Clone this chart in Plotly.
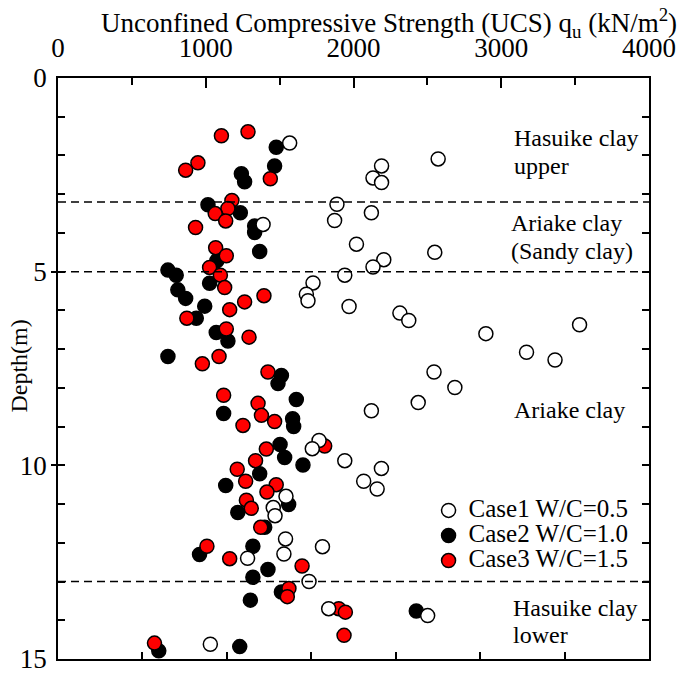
import plotly.graph_objects as go

# ---- data ----
case1_qu = [1568, 2573, 2190, 2132, 2190, 1888, 1872, 2121, 1388, 2020, 2550, 2205, 2132, 1941,
            1726, 1681, 1692, 1970, 2314, 2374, 3530, 2896, 3171, 3364, 2545, 2686, 2438, 2121,
            1767, 1721, 1941, 2189, 2069, 2160, 1543, 1457, 1469, 1540, 1529, 1283, 1790, 1699,
            1832, 2502, 1031]
case1_depth = [1.68, 2.09, 2.27, 2.58, 2.70, 3.26, 3.68, 3.48, 3.78, 4.29, 4.50, 4.69, 4.88, 5.09,
               5.29, 5.58, 5.75, 5.90, 6.07, 6.26, 6.37, 6.60, 7.08, 7.28, 7.59, 7.99, 8.38, 8.59,
               9.36, 9.57, 9.88, 10.08, 10.41, 10.61, 10.80, 11.09, 11.30, 11.90, 12.29, 12.40, 12.10, 13.00,
               13.70, 13.88, 14.62]

case2_qu = [1477, 1466, 1241, 1263, 1015, 1234, 1331, 1331, 1365, 1075, 744, 800, 1026, 811,
            864, 993, 936, 1071, 1150, 744, 1512, 1489, 1613, 1121, 1588, 1595, 1503, 1534,
            1658, 1365, 1135, 1561, 1217, 1399, 958, 1319, 1421, 1319, 1512, 1302, 2425, 682, 1230]
case2_depth = [1.79, 2.27, 2.47, 2.68, 3.27, 3.48, 3.82, 3.99, 4.48, 4.72, 4.96, 5.09, 5.30, 5.47,
               5.69, 5.89, 6.20, 6.57, 6.79, 7.19, 7.68, 7.89, 8.30, 8.66, 8.80, 9.00, 9.46, 9.80,
               9.99, 10.22, 10.52, 11.01, 11.22, 11.60, 12.30, 12.09, 12.69, 12.89, 13.27, 13.48, 13.76, 14.79, 14.68]

case3_qu = [1106, 1286, 947, 864, 1437, 1177, 1150, 1064, 1135, 931, 1067, 1139, 1026, 1099,
            1128, 1394, 1263, 1162, 872, 1139, 1293, 1090, 977, 1421, 1121, 1354, 1377, 1466,
            1252, 1805, 1410, 1337, 1213, 1270, 1477, 1414, 1275, 1308, 1372, 1008, 1162, 1652,
            1563, 1552, 1900, 1945, 1936, 653]
case3_depth = [1.49, 1.39, 2.19, 2.38, 2.60, 3.16, 3.37, 3.50, 3.69, 3.86, 4.38, 4.59, 4.89, 5.09,
               5.41, 5.62, 5.78, 5.98, 6.20, 6.48, 6.69, 7.19, 7.38, 7.59, 8.19, 8.40, 8.71, 8.87,
               8.97, 9.50, 9.58, 9.88, 10.10, 10.41, 10.50, 10.69, 10.90, 11.11, 11.60, 12.09, 12.41, 12.60,
               13.18, 13.39, 13.70, 13.79, 14.39, 14.59]

series_names = ["Case1 W/C=0.5", "Case2 W/C=1.0", "Case3 W/C=1.5"]

x_tick_vals = [0, 1000, 2000, 3000, 4000]
x_minor_vals = [500, 1500, 2500, 3500]
x_bottom_ticks = [571.4, 1142.9, 1714.3, 2285.7, 2857.1, 3428.6]
y_tick_vals = [0, 5, 10, 15]
y_minor_vals = [1, 2, 3, 4, 6, 7, 8, 9, 11, 12, 13, 14]
y_right_ticks = [1, 2, 3, 4, 5, 6, 7, 8, 9, 10, 11, 12, 13, 14]
boundary_depths = [3.2, 5.0, 13.0]

layer_labels = [
    ("Hasuike clay", 3070, 1.56), ("upper", 3070, 2.26),
    ("Ariake clay", 3050, 3.74), ("(Sandy clay)", 3050, 4.47),
    ("Ariake clay", 3070, 8.57),
    ("Hasuike clay", 3065, 13.68), ("lower", 3065, 14.39),
]

FONT = "Liberation Serif"

def legend_label(s):
    return '<span style="font-size:25px">' + s + '</span>'

fig = go.Figure()
MS = 14
fig.add_trace(go.Scatter(x=case2_qu, y=case2_depth, mode="markers", name=legend_label(series_names[1]),
                         legendrank=2,
                         marker=dict(size=MS, color="black", line=dict(color="black", width=1.5))))
fig.add_trace(go.Scatter(x=case3_qu, y=case3_depth, mode="markers", name=legend_label(series_names[2]),
                         legendrank=3,
                         marker=dict(size=MS, color="#ff0000", line=dict(color="black", width=1.5))))
fig.add_trace(go.Scatter(x=case1_qu, y=case1_depth, mode="markers", name=legend_label(series_names[0]),
                         legendrank=1,
                         marker=dict(size=MS, color="white", line=dict(color="black", width=1.5))))

# dummy traces so the extra tick axes render
fig.add_trace(go.Scatter(x=[None], y=[None], xaxis="x2", yaxis="y", showlegend=False, hoverinfo="skip"))
fig.add_trace(go.Scatter(x=[None], y=[None], xaxis="x", yaxis="y2", showlegend=False, hoverinfo="skip"))
fig.add_trace(go.Scatter(x=[None], y=[None], xaxis="x", yaxis="y3", showlegend=False, hoverinfo="skip"))

for d in boundary_depths:
    fig.add_shape(type="line", xref="x", yref="y", x0=0, x1=4000, y0=d, y1=d,
                  line=dict(color="black", width=1.5, dash="8px,5px"))

for txt, xv, yv in layer_labels:
    fig.add_annotation(text=txt, x=xv, y=yv, xref="x", yref="y", xanchor="left", yanchor="middle",
                       showarrow=False, font=dict(family=FONT, size=24, color="black"))

fig.add_annotation(text="Unconfined Compressive Strength (UCS) q<sub>u</sub> (kN/m<sup>2</sup>)",
                   xref="paper", yref="paper", x=0.5597, y=1.094, xanchor="center", yanchor="middle",
                   showarrow=False, font=dict(family=FONT, size=27, color="black"))
fig.add_annotation(text="Depth(m)", xref="paper", yref="paper", x=-0.066, y=0.505, textangle=-90,
                   xanchor="center", yanchor="middle", showarrow=False,
                   font=dict(family=FONT, size=24, color="black"))

axis_common = dict(showgrid=False, zeroline=False, tickcolor="black", tickwidth=1.5)

fig.update_layout(
    width=685, height=678, autosize=False,
    margin=dict(l=50, r=44, t=70, b=18, pad=0),
    plot_bgcolor="white", paper_bgcolor="white",
    font=dict(family=FONT, color="black"),
    xaxis=dict(range=[0, 4000], side="top", tickmode="array", tickvals=x_tick_vals,
               ticks="inside", ticklen=10, showline=True, linecolor="black", linewidth=1.5, mirror=True,
               tickfont=dict(family=FONT, size=27, color="black"), ticklabelstandoff=8,
               minor=dict(tickmode="array", tickvals=x_minor_vals, ticks="inside", ticklen=7,
                          tickwidth=1.5, tickcolor="black", showgrid=False),
               **axis_common),
    xaxis2=dict(range=[0, 4000], overlaying="x", side="bottom", anchor="y", tickmode="array",
                tickvals=x_bottom_ticks, ticks="inside", ticklen=7, showticklabels=False,
                showline=False, **axis_common),
    yaxis=dict(range=[15, 0], tickmode="array", tickvals=y_tick_vals, ticks="inside", ticklen=7,
               showline=True, linecolor="black", linewidth=1.5, mirror=True,
               tickfont=dict(family=FONT, size=27, color="black"), ticklabelstandoff=4,
               minor=dict(tickmode="array", tickvals=y_minor_vals, ticks="inside", ticklen=7,
                          tickwidth=1.5, tickcolor="black", showgrid=False),
               **axis_common),
    yaxis2=dict(range=[15, 0], overlaying="y", side="right", anchor="x", tickmode="array",
                tickvals=y_right_ticks, ticks="inside", ticklen=7, showticklabels=False,
                showline=False, **axis_common),
    yaxis3=dict(range=[15, 0], overlaying="y", side="left", anchor="x", tickmode="array",
                tickvals=[5, 10], ticks="outside", ticklen=6, showticklabels=False,
                showline=False, **axis_common),
    legend=dict(x=0.627, y=0.286, xanchor="left", yanchor="top", bgcolor="rgba(0,0,0,0)",
                borderwidth=0, traceorder="normal",
                font=dict(family=FONT, size=17, color="black")),
    showlegend=True,
)

fig.write_html("out.html", config={"displayModeBar": False})
